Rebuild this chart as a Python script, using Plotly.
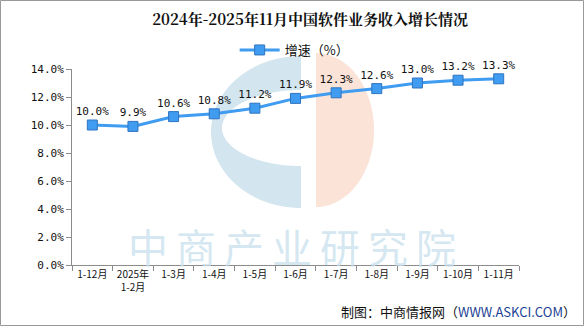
import numpy as np
import plotly.graph_objects as go

categories = ["1-12月", "2025年<br>1-2月", "1-3月", "1-4月", "1-5月", "1-6月",
              "1-7月", "1-8月", "1-9月", "1-10月", "1-11月"]
growth = [10.0, 9.9, 10.6, 10.8, 11.2, 11.9, 12.3, 12.6, 13.0, 13.2, 13.3]
y_ticks = [0, 2, 4, 6, 8, 10, 12, 14]

W, H = 585, 327
L, R, T, B = 72, 519, 69, 265  # plot area in pixels


def px(x):
    return (x - L) / (R - L)


def py(y):
    return (B - y) / (B - T)


def path_from(points):
    s = "M " + " L ".join(f"{px(x):.4f},{py(y):.4f}" for x, y in points) + " Z"
    return s


# watermark logo (decoration)
th = np.linspace(np.pi / 2, 3 * np.pi / 2, 60)
outer = [(301 + 90 * np.cos(t), 132 - 76 * np.sin(t)) for t in th]
inner = [(301 + 79 * np.cos(t), 128 - 38 * np.sin(t)) for t in th[::-1]]
blue_path = path_from(outer + inner)
th2 = np.linspace(np.pi / 2, -np.pi / 2, 60)
pink = [(316 + 58 * np.cos(t), 130 - 77 * np.sin(t)) for t in th2]
pink_path = path_from(pink)

fig = go.Figure()
fig.add_trace(go.Scatter(
    x=categories, y=growth, mode="lines+markers+text",
    name="增速（%）",
    line=dict(color="#3f9cf0", width=3),
    marker=dict(symbol="square", size=10, color="#3f9cf0",
                line=dict(color="#2f74c0", width=1)),
    text=[f"{v:.1f}%" for v in growth],
    textposition="top center",
    textfont=dict(family="DejaVu Sans Mono, monospace", size=11, color="#111"),
    cliponaxis=False,
))

fig.update_layout(
    width=W, height=H,
    margin=dict(l=L, r=W - R, t=T, b=H - B, autoexpand=False),
    paper_bgcolor="white", plot_bgcolor="rgba(0,0,0,0)",
    title=dict(text="<b>2024年-2025年11月中国软件业务收入增长情况</b>",
               x=0.53, xanchor="center", y=1 - 20 / H, yanchor="middle",
               font=dict(family="Noto Serif CJK SC, Noto Sans CJK SC, serif", size=15, color="#111")),
    showlegend=True,
    legend=dict(orientation="h", x=0.497, xanchor="center", y=1 + (T - 50) / (B - T),
                yanchor="middle", font=dict(family="Noto Sans CJK SC", size=13, color="#111"),
                bgcolor="rgba(0,0,0,0)", itemwidth=40),
    xaxis=dict(type="category", range=[-0.5, len(categories) - 0.5],
               showline=True, linecolor="#8c8c8c", linewidth=1,
               ticks="outside", ticklen=5, tickcolor="#8c8c8c",
               tickson="boundaries", showgrid=False, tickangle=0, automargin=False,
               tickfont=dict(family="Noto Sans CJK SC", size=10, color="#111")),
    yaxis=dict(range=[0, 14], tickvals=y_ticks,
               ticktext=[f"{v:.1f}%" for v in y_ticks],
               showline=True, linecolor="#8c8c8c", linewidth=1,
               ticks="outside", ticklen=5, tickcolor="#8c8c8c",
               showgrid=False, zeroline=False, automargin=False,
               tickfont=dict(family="DejaVu Sans Mono, monospace", size=11, color="#111")),
    shapes=[
        dict(type="path", path=blue_path, xref="paper", yref="paper",
             fillcolor="#d3e5ef", line=dict(width=0), layer="below"),
        dict(type="path", path=pink_path, xref="paper", yref="paper",
             fillcolor="#fbe3d8", line=dict(width=0), layer="below"),
        dict(type="rect", xref="paper", yref="paper",
             x0=px(0.5), x1=px(W - 1.5), y0=py(0.5), y1=py(H - 1.5),
             line=dict(color="#999", width=1), fillcolor="rgba(0,0,0,0)"),
    ],
    annotations=[
        dict(text="\u2009".join("中商产业研究院"), xref="paper", yref="paper",
             x=px(292), y=py(246), xanchor="center", yanchor="middle",
             showarrow=False,
             font=dict(family="Noto Sans CJK SC", size=40, color="rgba(200,223,237,0.75)")),
        dict(text="制图：中商情报网（<span style='color:#1c3f94'>WWW.ASKCI.COM</span>）",
             xref="paper", yref="paper", x=px(578), y=py(311),
             xanchor="right", yanchor="middle", showarrow=False,
             font=dict(family="Noto Sans CJK SC", size=13, color="#111")),
    ],
)

fig.write_html("out.html")
